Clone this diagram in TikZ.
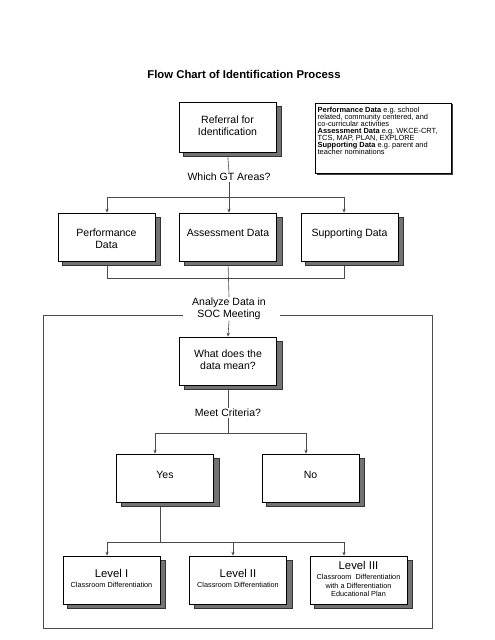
\documentclass[tikz,border=0pt]{standalone}
\usepackage{fontspec}
\setmainfont{Liberation Sans}
\usetikzlibrary{arrows.meta,backgrounds,calc}
\definecolor{lnc}{RGB}{75,75,75}
\definecolor{shd}{RGB}{115,115,115}
\newcommand\bt[2]{\raisebox{#1}[\height][\depth]{\begin{tabular}{@{}c@{}}#2\end{tabular}}}
\begin{document}
\begin{tikzpicture}[x=1.2364pt,y=-1.2364pt,
  box/.style={draw=black, line width=0.7pt, fill=white, minimum width=120pt, minimum height=59.3pt, align=center, inner sep=2pt, font=\fontsize{13}{15}\selectfont},
  lvbox/.style={box, font=\fontsize{9}{10.3}\selectfont},
  lbl/.style={align=center, inner sep=1pt, font=\fontsize{13}{15}\selectfont},
  conn/.style={draw=lnc, line width=0.75pt},
  arr/.style={conn, -{Stealth[length=5pt,width=4pt]}},
  shad/.style={fill=shd, draw=black!80, line width=0.5pt},
  frame/.style={draw=lnc, line width=0.9pt}]
\useasboundingbox (0,0) rectangle (495,640);

% title
\node[font=\fontsize{14}{16}\selectfont\bfseries] (title) at (244,74) {Flow Chart of Identification Process};

% boxes
\node[box, minimum height=61.8pt] (ref) at (227.5,127) {\bt{0pt}{Referral for\\Identification}};
\node[box] (perf) at (106.5,237) {\bt{-3.7pt}{Performance\\Data}};
\node[box] (asse) at (228,237) {\bt{3.7pt}{Assessment Data}};
\node[box] (supp) at (349.5,237) {\bt{3.7pt}{Supporting Data}};
\node[box] (what) at (228,361) {\bt{0pt}{What does the\\data mean?}};
\node[box] (yes) at (165,478) {\bt{2.5pt}{Yes}};
\node[box] (no) at (310.5,478) {\bt{2.5pt}{No}};
\node[lvbox] (lvA) at (111.5,580) {\bt{0pt}{{\fontsize{14}{15}\selectfont Level I}\\[2pt]Classroom Differentiation}};
\node[lvbox] (lvB) at (238,580) {\bt{0pt}{{\fontsize{14}{15}\selectfont Level II}\\[2pt]Classroom Differentiation}};
\node[lvbox] (lvC) at (358.5,580) {\bt{0pt}{{\fontsize{14}{15}\selectfont Level III}\\[2.5pt]Classroom\ \ Differentiation\\with a Differentiation\\Educational Plan}};

% info box
\node[draw=black, line width=0.6pt, fill=white, anchor=north west, inner xsep=3pt, inner ysep=4.5pt] (info) at (315,103)
{\parbox[t][77.5pt][t]{162pt}{\fontsize{9.2}{8.7}\selectfont\raggedright\frenchspacing
\textbf{Performance Data} e.g. school\\related, community centered, and\\co-curricular activities\\\textbf{Assessment Data} e.g. WKCE-CRT,\\TCS, MAP, PLAN, EXPLORE\\\textbf{Supporting Data} e.g. parent and\\teacher nominations}};

% labels
\node[lbl] (q1) at (229,177) {Which GT Areas?};
\node[lbl] (q2) at (229,309) {Analyze Data in\\SOC Meeting};
\node[lbl] (q3) at (228,413) {Meet Criteria?};

% bus coordinates
\coordinate (b1L) at (107,197);
\coordinate (b1R) at (344,197);
\coordinate (b2L) at (107,278);
\coordinate (b2R) at (344,278);
\coordinate (b3L) at (155,433);
\coordinate (b3R) at (306,433);
\coordinate (yd) at (160,542);
\coordinate (b4L) at (107,542);
\coordinate (b4M) at (233,542);
\coordinate (b4R) at (344,542);

\begin{scope}[on background layer]
  % frame
  \draw[frame] (183,315) -- (43,315) -- (43,628) -- (432,628) -- (432,315) -- (280,315);
  % connectors
  \draw[conn] (ref.south) -- (q1.north);
  \draw[conn] (q1.south) -- (q1.south |- b1L);
  \draw[conn] (b1L) -- (b1R);
  \draw[arr] (b1L) -- (b1L |- perf.north);
  \draw[arr] (q1.south |- b1L) -- (q1.south |- asse.north);
  \draw[arr] (b1R) -- (b1R |- supp.north);
  \draw[conn] (b2L |- perf.south) -- (b2L) -- (b2R) -- (b2R |- supp.south);
  \draw[conn] (asse.south) -- (q2.north);
  \draw[arr] (q2.south) -- (what.north);
  \draw[conn] (what.south) -- (q3.north);
  \draw[conn] (q3.south) -- (q3.south |- b3L);
  \draw[conn] (b3L) -- (b3R);
  \draw[arr] (b3L) -- (b3L |- yes.north);
  \draw[arr] (b3R) -- (b3R |- no.north);
  \draw[conn] (yd |- yes.south) -- (yd);
  \draw[conn] (b4L) -- (b4R);
  \draw[arr] (b4L) -- (b4L |- lvA.north);
  \draw[arr] (b4M) -- (b4M |- lvB.north);
  \draw[arr] (b4R) -- (b4R |- lvC.north);
  % shadows
  \foreach \n in {ref,perf,asse,supp,what,yes,no,lvA,lvB,lvC}
    \draw[shad] ($(\n.south west)+(5,4)$) rectangle ($(\n.north east)+(5,4)$);
  \fill[black!75] ($(info.south west)+(1.5,0)$) rectangle ($(info.south east)+(1.5,1.5)$);
  \fill[black!75] ($(info.north east)+(0,1.5)$) rectangle ($(info.south east)+(1.5,1.5)$);
\end{scope}
\end{tikzpicture}
\end{document}
